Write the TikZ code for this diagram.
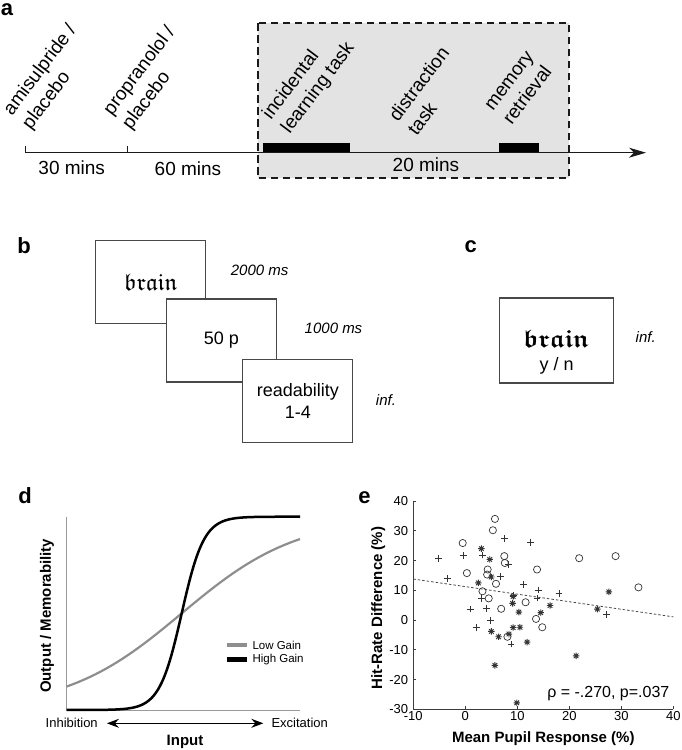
\documentclass[tikz,border=0pt]{standalone}
\usepackage{amsmath,amssymb}
\usepackage{fontspec}
\setmainfont{Liberation Sans}
\usepackage{tikz}
\usetikzlibrary{arrows.meta,positioning,calc}
\definecolor{ink}{HTML}{1A1A1A}
\definecolor{panelgrey}{HTML}{E3E3E3}
\definecolor{lowgain}{HTML}{8E8E8E}
\definecolor{axisgrey}{HTML}{9A9A9A}
\definecolor{mark}{HTML}{333333}
\newcommand{\fsz}[2]{\fontsize{#1}{#2}\selectfont}

\begin{document}
\begin{tikzpicture}[x=1pt,y=-1pt,
  letter/.style={font=\fsz{22}{22}\bfseries,inner sep=0pt},
  rot/.style={font=\fsz{19}{23.5},rotate=53,anchor=south west,align=left,inner sep=0pt},
  dur/.style={font=\fsz{19}{22},inner sep=0pt},
  ar/.style={-{Stealth[length=17pt,width=10pt,inset=5pt]},line width=1.1pt,draw=ink},
  tl/.style={line width=1.1pt,draw=ink},
  dashbox/.style={draw=ink,line width=1.8pt,dash pattern=on 7.5pt off 4.5pt},
  scr/.style={draw=ink!80,fill=white,line width=1.2pt,minimum width=110pt,minimum height=83pt,
              inner sep=0pt,align=center,font=\fsz{18}{22}},
  tm/.style={font=\fsz{15}{17}\itshape,inner sep=0pt},
  axd/.style={draw=axisgrey,line width=0.8pt},
  lo/.style={draw=lowgain,line width=2.2pt},
  hi/.style={draw=black,line width=2.5pt},
  lg/.style={font=\fsz{11.5}{13},inner sep=0pt,anchor=west},
  io/.style={font=\fsz{13}{15},inner sep=0pt},
  dar/.style={{Stealth[length=12pt,width=9pt,inset=4pt]}-{Stealth[length=12pt,width=9pt,inset=4pt]},line width=1.1pt},
  axlab/.style={font=\fsz{15}{18}\bfseries,inner sep=0pt},
  axe/.style={draw=ink!85,line width=0.8pt},
  tk/.style={font=\fsz{13}{15},inner sep=0pt},
  mk/.style={draw=mark,line width=0.7pt},
  fitl/.style={draw=ink!80,line width=0.8pt,dash pattern=on 2.5pt off 2pt}]
\useasboundingbox (0,0) rectangle (682,750);

% a: timeline
\node[letter] (la) at (7,10) {a};
\fill[panelgrey] (258,23) rectangle (568.7,178.3);
\draw[dashbox] (258,23) rectangle (568.7,178.3);
\coordinate (t0) at (25.7,152.7);
\coordinate (t1) at (127.7,152.7);
\coordinate (tend) at (646,152.7);
\fill (263,143) rectangle (350,152.7);
\fill (499,143) rectangle (539,152.7);
\draw[ar] (t0) -- (tend);
\draw[tl] (t0) -- ++(0,-7);
\draw[tl] (t1) -- ++(0,-7);
\node[rot] (ami) at (34,133) {amisulpride /\\placebo};
\node[rot] (pro) at (134,133) {propranolol /\\placebo};
\node[rot] (inc) at (293,137) {incidental\\learning task};
\node[rot] (dis) at (417,137) {distraction\\task};
\node[rot] (mem) at (512,126) {memory\\retrieval};
\node[dur] (d30) at (71.7,167.7) {30 mins};
\node[dur] (d60) at (188,168.3) {60 mins};
\node[dur] (d20) at (426,165) {20 mins};

% b: encoding trial
\node[letter] (lb) at (24,246) {b};
\node[scr] (s1) at (150.7,282) {\fsz{24}{24}$\mathfrak{brain}$};
\node[scr] (s2) at (221.5,340.5) {50 p};
\node[scr] (s3) at (297.8,400.7) {readability\\1-4};
\node[tm] (ms1) at (259.6,270) {2000 ms};
\node[tm] (ms2) at (333.5,328.3) {1000 ms};
\node[tm] (ms3) at (386,400) {inf.};

% c: retrieval trial
\node[letter] (lc) at (470.7,246.7) {c};
\node[scr,minimum width=114pt,minimum height=85pt] (rc) at (556.3,340.5) {};
\node[inner sep=0pt,font=\fsz{25}{25}] (rcw) at (556.7,339.3) {$\boldsymbol{\mathfrak{brain}}$};
\node[inner sep=0pt,font=\fsz{18}{22}] (rcq) at (556.7,365.7) {y / n};
\node[tm] (msc) at (645.7,337.3) {inf.};

% d: gain curves
\node[letter] (ld) at (25,495.5) {d};
\coordinate (dtop) at (66.7,516.7);
\coordinate (dO) at (66.7,710);
\coordinate (dend) at (300,710);
\draw[axd] (dtop) -- (dO) -- (dend);
\draw[lo] plot[domain=66.7:300,samples=120] (\x,{710-193.3/(1+exp(-0.0172*(\x-181.7)))});
\draw[hi] plot[domain=66.7:300,samples=200] (\x,{710-193.3/(1+exp(min(9,-0.09*(\x-181.7))))});
\node[lg] (lglo) at (252.3,645) {Low Gain};
\node[lg] (lghi) at (252.3,659.3) {High Gain};
\draw[lo,line width=4.5pt] ([xshift=-25.6pt]lglo.west) -- ++(20,0);
\draw[hi,line width=4.5pt] ([xshift=-25.6pt]lghi.west) -- ++(20,0);
\node[axlab,rotate=90] (dyl) at (47,615.8) {Output / Memorability};
\node[io] (inh) at (71.7,723.3) {Inhibition};
\node[io] (exc) at (299.7,723.3) {Excitation};
\draw[dar] ([xshift=9pt]inh.east) -- ([xshift=-8pt]exc.west);
\node[axlab] (din) at (185,741.7) {Input};

% e: scatter
\node[letter] (le) at (364.5,497.5) {e};
\begin{scope}[shift={(465.3,620.1)},x=5.2pt,y=2.976pt]
  \draw[axe] (-10,40) -- (-10,-30) -- (40,-30);
  \foreach \v in {-30,-20,...,40} {
    \draw[axe] (-10,\v) -- ++(3pt,0pt);
    \node[tk,anchor=east] at ([xshift=-5pt]-10,\v) {\v};
  }
  \foreach \v in {-10,0,...,40} {
    \draw[axe] (\v,-30) -- ++(0pt,3pt);
    \node[tk,anchor=north] at ([yshift=-1.5pt]\v,-30) {\v};
  }
  \draw[fitl] (-10,13.8) -- (40,1.1);
  \foreach \px/\py in {5.7/34,5.3/30.2,-0.5/25.9,7.5/21.5,7.6/19.2,4.3/17,0.3/15.8,4.2/15.3,
      5.9/12.2,13.8/17,21.9/20.8,28.9/21.5,33.3/11,3.3/9.7,4.5/7.3,6.9/3.8,11.6/6,
      13.6/0.4,14.8/-2.4,8.1/-5.6}
    \draw[mk] (\px,\py) circle[radius=3.6pt];
  \foreach \px/\py in {-5.2/20.6,-3.5/14.1,-0.3/21.7,3.3/21.9,7.5/27.4,12.6/26,8.3/18.8,
      6.7/14.6,11.2/12,14/10.1,13.8/7.4,18/9,27.2/1.8,1/3.7,4.1/3.8,4.9/0,2.1/-2.6,
      8.8/-8,3.1/7.3,9.2/8.4}
    \draw[mk] (\px,\py) +(-3.4pt,0pt) -- +(3.4pt,0pt) +(0pt,-3.4pt) -- +(0pt,3.4pt);
  \foreach \px/\py in {3.1/24,4.7/20.4,2.5/12.5,5/14.5,9.2/8,9.1/5.6,10.3/2.7,16.3/4.9,
      14.5/2.5,9.2/-2.5,10.5/-2.4,5/-3.8,6.4/-5.6,8.4/-4.7,11.9/-7.4,5.7/-15.2,
      21.3/-12,25.4/3.7,27.6/9.5,9.9/-27.8}
    \draw[mk,line width=0.9pt] (\px,\py) +(-3.2pt,0pt) -- +(3.2pt,0pt) +(0pt,-3.2pt) -- +(0pt,3.2pt)
      +(-2.3pt,-2.3pt) -- +(2.3pt,2.3pt) +(-2.3pt,2.3pt) -- +(2.3pt,-2.3pt);
\end{scope}
\node[axlab] (exl) at (543.3,738.3) {Mean Pupil Response (\%)};
\node[axlab,rotate=90] (eyl) at (378.3,608) {Hit-Rate Difference (\%)};
\node[inner sep=0pt,font=\fsz{16}{18}] (rho) at (608.3,693.3) {ρ = -.270, p=.037};
\end{tikzpicture}
\end{document}
